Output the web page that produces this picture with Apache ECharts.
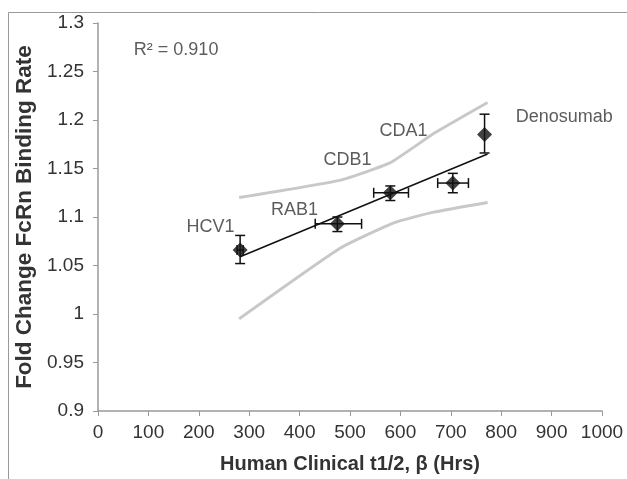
<!DOCTYPE html>
<html>
<head>
<meta charset="utf-8">
<script src="https://cdn.jsdelivr.net/npm/echarts@6/dist/echarts.min.js"></script>
<style>html,body{margin:0;padding:0;background:#fff;}#c{width:627px;height:479px;}</style>
</head>
<body>
<div id="c"></div>
<script>
// Data
var names = ['HCV1', 'RAB1', 'CDB1', 'CDA1', 'Denosumab'];
var halfLife = [282, 475, 580, 704, 767];
var halfLifeLo = [276, 431, 547, 674, 767];
var halfLifeHi = [288, 523, 616, 735, 767];
var foldChange = [1.066, 1.093, 1.125, 1.135, 1.185];
var foldLo = [1.052, 1.085, 1.117, 1.125, 1.166];
var foldHi = [1.081, 1.100, 1.132, 1.145, 1.206];
var trendLine = [[282, 1.059], [773, 1.165]];
var upperBand = [[280, 1.120], [481, 1.138], [580, 1.156], [666, 1.186], [773, 1.218]];
var lowerBand = [[280, 0.995], [481, 1.068], [587, 1.094], [666, 1.105], [773, 1.115]];
var labelPos = [[223, 1.090], [390, 1.107], [495, 1.159], [606, 1.189], [925, 1.2026]];
var r2Text = 'R² = 0.910';
var r2Pos = [155, 1.272];

var FONT = 'Liberation Sans, Arial, Helvetica, sans-serif';
var points = halfLife.map(function (x, i) { return [x, foldChange[i]]; });
var errData = halfLife.map(function (x, i) {
  return [x, foldChange[i], halfLifeLo[i], halfLifeHi[i], foldLo[i], foldHi[i]];
});
var labelData = names.map(function (n, i) { return { name: n, value: labelPos[i] }; });
labelData.push({ name: r2Text, value: r2Pos });

var chart = echarts.init(document.getElementById('c'), null, { renderer: 'canvas' });
chart.setOption({
  backgroundColor: '#fff',
  animation: false,
  graphic: [{
    type: 'rect', shape: { x: 8.5, y: 12.5, width: 700, height: 600 },
    style: { fill: 'none', stroke: '#999', lineWidth: 1 }, z: -10
  }],
  grid: { left: 98, right: 25, top: 23, bottom: 66 },
  xAxis: {
    type: 'value', min: 0, max: 1000, interval: 100,
    name: 'Human Clinical t1/2, β (Hrs)', nameLocation: 'middle', nameGap: 43,
    nameTextStyle: { fontFamily: FONT, fontSize: 20, fontWeight: 'bold', color: '#333' },
    axisLine: { show: true, lineStyle: { color: '#999', width: 1.5 } },
    axisTick: { show: true, length: 5, lineStyle: { color: '#999' } },
    axisLabel: { fontFamily: FONT, fontSize: 19, color: '#333', margin: 12,
      formatter: function (v) { return String(v); } },
    splitLine: { show: false }
  },
  yAxis: {
    type: 'value', min: 0.9, max: 1.3, interval: 0.05,
    name: 'Fold Change FcRn Binding Rate', nameLocation: 'middle', nameGap: 61,
    nameTextStyle: { fontFamily: FONT, fontSize: 22.5, fontWeight: 'bold', color: '#333' },
    axisLine: { show: true, lineStyle: { color: '#999', width: 1.5 } },
    axisTick: { show: true, length: 5, lineStyle: { color: '#999' } },
    axisLabel: { fontFamily: FONT, fontSize: 19, color: '#333', margin: 14 },
    splitLine: { show: false }
  },
  series: [
    {
      type: 'line', data: upperBand, smooth: 0.15, symbol: 'none',
      lineStyle: { color: '#c8c8c8', width: 3 }, z: 1
    },
    {
      type: 'line', data: lowerBand, smooth: 0.15, symbol: 'none',
      lineStyle: { color: '#c8c8c8', width: 3 }, z: 1
    },
    {
      type: 'line', data: trendLine, symbol: 'none',
      lineStyle: { color: '#111', width: 1.5 }, z: 2
    },
    {
      type: 'custom', data: errData, z: 3,
      renderItem: function (params, api) {
        var x = api.value(0), y = api.value(1);
        var xl = api.value(2), xh = api.value(3), yl = api.value(4), yh = api.value(5);
        var pLo = api.coord([x, yl]), pHi = api.coord([x, yh]);
        var qLo = api.coord([xl, y]), qHi = api.coord([xh, y]);
        var cap = 5;
        var st = { stroke: '#111', lineWidth: 1.5 };
        var ch = [
          { type: 'line', shape: { x1: pLo[0], y1: pLo[1], x2: pHi[0], y2: pHi[1] }, style: st },
          { type: 'line', shape: { x1: pLo[0] - cap, y1: pLo[1], x2: pLo[0] + cap, y2: pLo[1] }, style: st },
          { type: 'line', shape: { x1: pHi[0] - cap, y1: pHi[1], x2: pHi[0] + cap, y2: pHi[1] }, style: st }
        ];
        if (xh > xl) {
          ch.push({ type: 'line', shape: { x1: qLo[0], y1: qLo[1], x2: qHi[0], y2: qHi[1] }, style: st });
          ch.push({ type: 'line', shape: { x1: qLo[0], y1: qLo[1] - cap, x2: qLo[0], y2: qLo[1] + cap }, style: st });
          ch.push({ type: 'line', shape: { x1: qHi[0], y1: qHi[1] - cap, x2: qHi[0], y2: qHi[1] + cap }, style: st });
        }
        return { type: 'group', children: ch };
      }
    },
    {
      type: 'scatter', data: points, symbol: 'diamond', symbolSize: 15,
      itemStyle: { color: '#111' }, z: 4
    },
    {
      type: 'scatter', data: labelData, symbolSize: 0, z: 5, silent: true,
      label: {
        show: true, position: 'inside', formatter: '{b}',
        fontFamily: FONT, fontSize: 18, color: '#333'
      }
    }
  ]
});
</script>
</body>
</html>
